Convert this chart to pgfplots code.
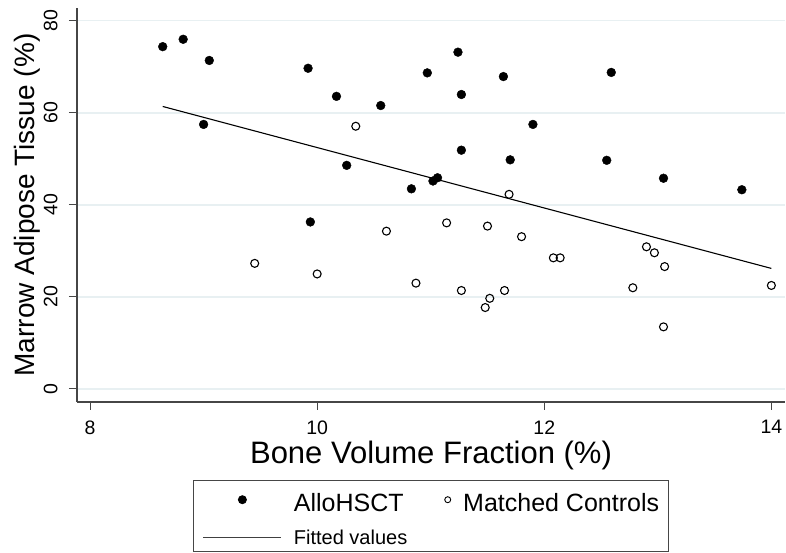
\documentclass[border=0pt]{standalone}
\usepackage{pgfplots}
\pgfplotsset{compat=1.18}
\usepackage{fontspec}
\setmainfont{Liberation Sans}
\definecolor{gridc}{RGB}{232,240,242}
\definecolor{axc}{RGB}{70,70,70}
\begin{document}
\begin{tikzpicture}
\begin{axis}[
  name=ax,
  scale only axis,
  width=708pt, height=394pt,
  xmin=7.885, xmax=14.12,
  ymin=-2.83, ymax=82.8,
  axis x line*=bottom, axis y line*=left,
  axis line style={-, draw=axc, line width=1.3pt},
  xtick={8,10,12,14}, ytick={0,20,40,60,80},
  tick align=outside, major tick length=8pt,
  tick style={draw=axc, line width=1pt},
  /pgf/number format/assume math mode=true,
  ticklabel style={font=\fontsize{19.5}{22}\selectfont},
  yticklabel style={rotate=90, anchor=south, yshift=8pt},
  xticklabel style={yshift=-7pt},
  ymajorgrids, grid style={draw=gridc, line width=1.2pt},
  xlabel={Bone Volume Fraction (\%)},
  ylabel={Marrow Adipose Tissue (\%)},
  xlabel style={font=\fontsize{31}{36}\selectfont, at={(axis description cs:0.5,0)}, anchor=base, yshift=-62pt},
  ylabel style={font=\fontsize{28}{32}\selectfont, at={(axis description cs:0,0.5)}, anchor=base, yshift=42pt},
  clip=false,
  legend columns=2,
  legend cell align=left,
  legend style={at={(0.5,-0.198)}, anchor=north, draw=axc, line width=0.9pt,
    inner xsep=9pt, inner ysep=6pt,
    nodes={inner sep=0pt},
    column sep=12pt, row sep=17pt,
    /tikz/every even column/.append style={column sep=37pt}},
]
\addplot[only marks, mark=*, mark size=4.4pt, mark options={fill=black, draw=black},
  legend image code/.code={\path[draw=none,fill=none] (0pt,0pt) -- (78pt,0pt); \fill[black] (39pt,0pt) circle (4pt);}]
coordinates {
(8.64,74.4) (8.82,76.0) (9.05,71.4) (9.00,57.5) (9.92,69.7) (10.17,63.6)
(10.56,61.6) (10.26,48.6) (9.94,36.3) (11.24,73.2) (10.97,68.7) (11.64,67.9)
(11.27,64.0) (12.59,68.8) (11.90,57.5) (11.27,51.9) (11.70,49.8) (12.55,49.7)
(13.05,45.8) (13.74,43.3) (10.83,43.5) (11.02,45.2) (11.06,45.9)
};
\addlegendentry{\fontsize{25}{28}\selectfont\rule{0pt}{25pt}AlloHSCT}
\addplot[only marks, mark=o, mark size=4pt, mark options={draw=black, line width=1.1pt},
  legend image code/.code={\draw[black, line width=0.9pt] (0pt,0pt) circle (3pt);}]
coordinates {
(10.34,57.1) (10.61,34.3) (9.45,27.3) (10.00,25.0) (11.14,36.1) (11.50,35.4)
(11.80,33.1) (11.69,42.3) (12.08,28.5) (12.14,28.5) (12.90,30.9) (12.97,29.6)
(13.06,26.6) (10.87,23.0) (11.27,21.4) (11.52,19.7) (11.48,17.7) (11.65,21.4)
(12.78,22.0) (13.05,13.5) (14.00,22.5)
};
\addlegendentry{\fontsize{25}{28}\selectfont\rule{0pt}{25pt}Matched Controls\hspace{20pt}}
\addplot[black, line width=1.1pt, no marks,
  legend image code/.code={\draw[black!75, line width=1pt] (0pt,0pt) -- (78pt,0pt);}]
coordinates {(8.64,61.4) (14.00,26.2)};
\addlegendentry{\fontsize{20}{24}\selectfont Fitted values}
\end{axis}
\pgfresetboundingbox
\path[use as bounding box] ([xshift=-77pt,yshift=-151pt]ax.south west) rectangle ([xshift=1pt,yshift=8pt]ax.north east);
\end{tikzpicture}
\end{document}
